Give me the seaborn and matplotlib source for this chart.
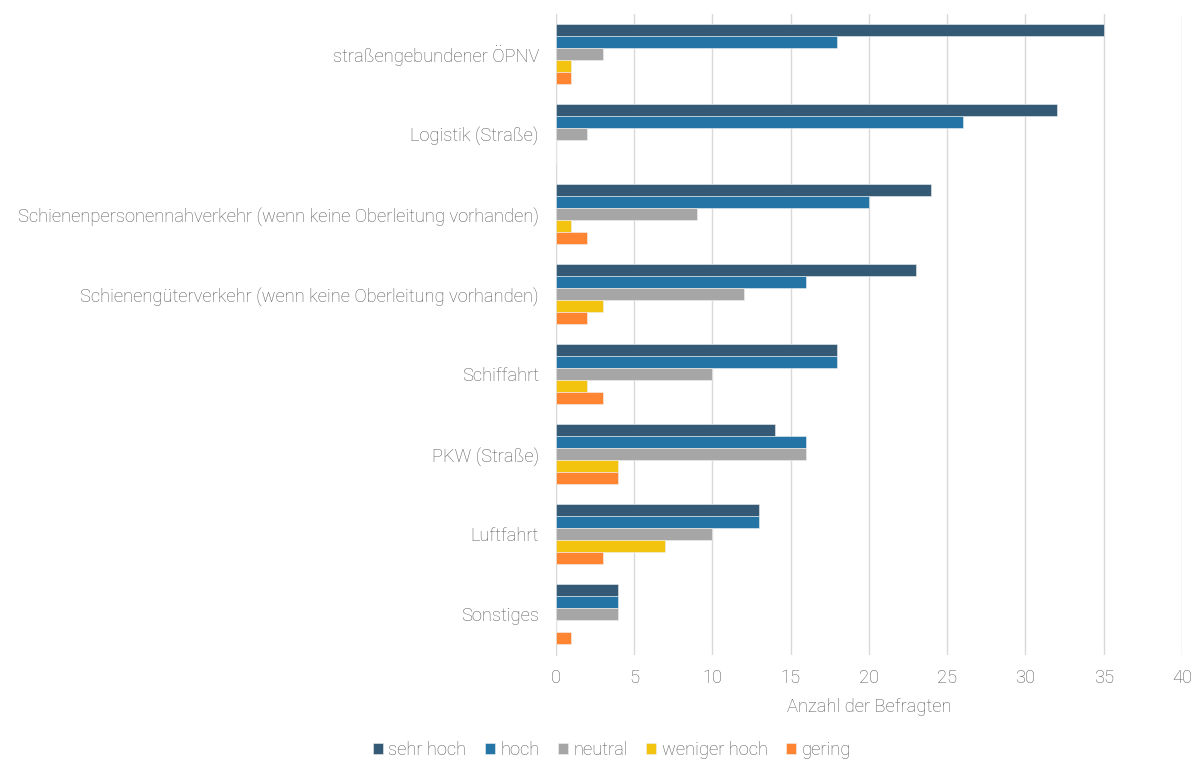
import pandas as pd
import matplotlib.pyplot as plt
import seaborn as sns

# Kategorien und Werte (Anzahl der Befragten)
bereiche = ["straßengebundener ÖPNV", "Logistik (Straße)",
            "Schienenpersonennahverkehr (wenn keine Oberleitung vorhanden)",
            "Schienengüterverkehr (wenn keine Oberleitung vorhanden)",
            "Schiffahrt", "PKW (Straße)", "Luftfahrt", "Sonstiges"]
stufen = ["sehr hoch", "hoch", "neutral", "weniger hoch", "gering"]
sehr_hoch = [35, 32, 24, 23, 18, 14, 13, 4]
hoch = [18, 26, 20, 16, 18, 16, 13, 4]
neutral = [3, 2, 9, 12, 10, 16, 10, 4]
weniger_hoch = [1, 0, 1, 3, 2, 4, 7, 0]
gering = [1, 0, 2, 2, 3, 4, 3, 1]
farben = ["#345a75", "#2474a6", "#a6a6a6", "#f2c40f", "#ff8533"]

werte = [sehr_hoch, hoch, neutral, weniger_hoch, gering]
rows = []
for s, w in zip(stufen, werte):
    for b, v in zip(bereiche, w):
        rows.append({"Bereich": b, "Stufe": s, "Anzahl": v})
data = pd.DataFrame(rows)

sns.set_style("white")
plt.rcParams['font.family'] = ['Roboto', 'DejaVu Sans']
plt.rcParams['font.weight'] = 'light'
plt.rcParams['axes.labelweight'] = 'light'
grau = "#595959"
fs = 13.2

fig, ax = plt.subplots(figsize=(12, 7.6), dpi=100)
fig.subplots_adjust(left=0.463, right=0.985, top=0.982, bottom=0.138)

sns.barplot(data=data, y="Bereich", x="Anzahl", hue="Stufe", hue_order=stufen,
            palette=farben, saturation=1, orient="h", width=0.75, gap=0, ax=ax,
            edgecolor="#f0f0f0", linewidth=0.4, zorder=3)

ax.set_xlim(0, 40)
ax.set_xticks(range(0, 41, 5))
ax.grid(axis="x", color="#d9d9d9", linewidth=1, zorder=0)
ax.set_axisbelow(True)
for sp in ["top", "right", "bottom"]:
    ax.spines[sp].set_visible(False)
ax.spines["left"].set_color("#d9d9d9")
ax.tick_params(axis="both", length=0, labelsize=fs, labelcolor=grau, pad=10)
ax.tick_params(axis="y", pad=12)
ax.set_ylabel("")
ax.set_xlabel("Anzahl der Befragten", fontsize=fs, color=grau, labelpad=8)
ax.set_ylim(7.51, -0.5)

ax.legend(loc="upper center", bbox_to_anchor=(0.09, -0.108), ncol=5, frameon=False,
          fontsize=fs, labelcolor=grau, handlelength=0.55, handleheight=0.55,
          handletextpad=0.3, columnspacing=1.0)

plt.savefig("out.png")
